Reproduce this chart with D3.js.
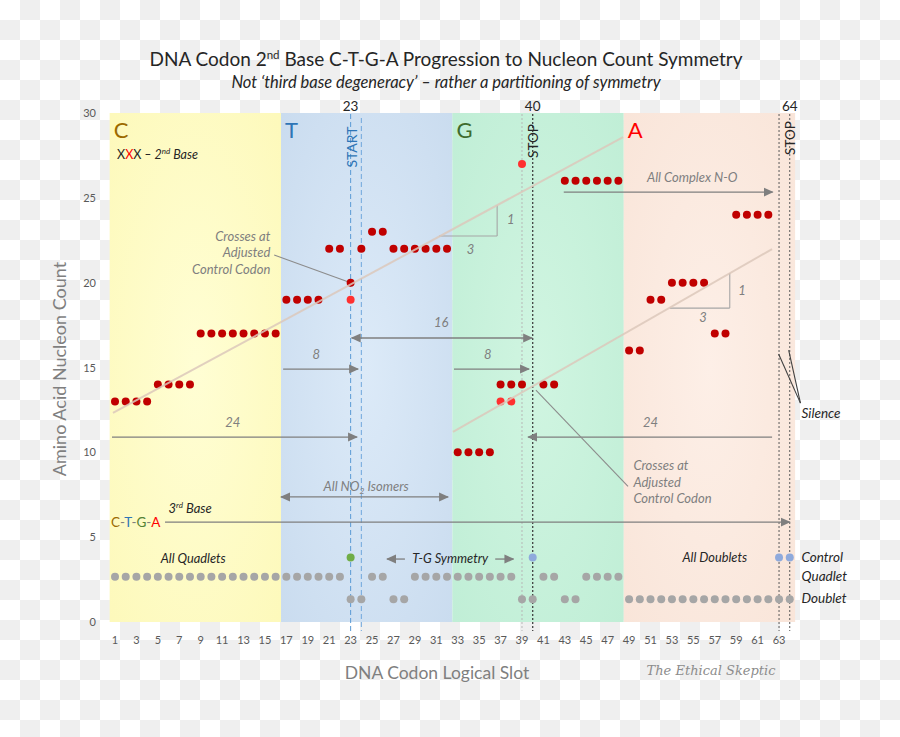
<!DOCTYPE html>
<html>
<head>
<meta charset="utf-8">
<script src="https://cdn.jsdelivr.net/npm/d3@7"></script>
<style>
  body { margin: 0; background: #fff; }
  svg text { font-family: Lato, "Liberation Sans", sans-serif; }
</style>
</head>
<body>
<svg id="chart" width="900" height="737"></svg>
<script>
// ---------------- data ----------------
var bases = ["C", "T", "G", "A"];
var baseFirstSlot = [1, 17, 33, 49];
var baseLastSlot = [16, 32, 48, 64];

// amino acid nucleon count at each codon slot 1..64 (null = stop, no amino acid)
var nucleons = [13, 13, 13, 13, 14, 14, 14, 14, 17, 17, 17, 17, 17, 17, 17, 17,
                19, 19, 19, 19, 22, 22, 20, 22, 23, 23, 22, 22, 22, 22, 22, 22,
                10, 10, 10, 10, 14, 14, 14, null, 14, 14, 26, 26, 26, 26, 26, 26,
                16, 16, 19, 19, 20, 20, 20, 20, 17, 17, 24, 24, 24, 24, null, null];

// adjusted values (bright red)
var adjustedSlots = [23, 37, 38, 39];
var adjustedValues = [19, 13, 13, 27];

// 3rd base class of each slot: Q = quadlet, D = doublet
var thirdBase = ["Q","Q","Q","Q","Q","Q","Q","Q","Q","Q","Q","Q","Q","Q","Q","Q",
                 "Q","Q","Q","Q","Q","Q","D","D","Q","Q","D","D","Q","Q","Q","Q",
                 "Q","Q","Q","Q","Q","Q","D","D","Q","Q","D","D","Q","Q","Q","Q",
                 "D","D","D","D","D","D","D","D","D","D","D","D","D","D","D","D"];

// control codons (start / stop)
var controlSlots = [23, 40, 63, 64];
var controlKind = ["start", "stop", "stop", "stop"];

// rows used for the 3rd base strip
var rowControl = 3.8, rowQuadlet = 2.67, rowDoublet = 1.34;

// two 1:3 progression lines [slot, count]
var trendLines = [
  [[0.81, 12.32], [48.44, 28.58]],
  [[32.56, 11.2], [62.35, 21.98]]
];

var yTicks = [0, 5, 10, 15, 20, 25, 30];
var xTicks = d3.range(1, 64, 2);
var markedSlots = [23, 40, 64];

// ---------------- chart ----------------
var svg = d3.select("#chart");
var defs = svg.append("defs");

// transparency checkerboard behind everything
var pat = defs.append("pattern").attr("id", "checker")
  .attr("width", 40).attr("height", 40).attr("patternUnits", "userSpaceOnUse");
pat.append("rect").attr("width", 40).attr("height", 40).attr("fill", "#ffffff");
pat.append("rect").attr("x", 20).attr("y", 0).attr("width", 20).attr("height", 20).attr("fill", "#efefef");
pat.append("rect").attr("x", 0).attr("y", 20).attr("width", 20).attr("height", 20).attr("fill", "#efefef");
svg.append("rect").attr("width", 900).attr("height", 737).attr("fill", "url(#checker)");

defs.append("marker").attr("id", "arr")
  .attr("viewBox", "0 0 10 10").attr("refX", 9).attr("refY", 5)
  .attr("markerWidth", 10).attr("markerHeight", 10)
  .attr("markerUnits", "userSpaceOnUse")
  .attr("orient", "auto-start-reverse")
  .append("path").attr("d", "M0,0.5 L10,5 L0,9.5 Z").attr("fill", "#7f7f7f");

var x = d3.scaleLinear().domain([0.5, 64.5]).range([109.65, 795.1]);
var y = d3.scaleLinear().domain([0, 30]).range([622, 113]);

// panels
var panelColor = { C: ["#fffed4", "#fdf9bb"], T: ["#dceaf8", "#cadcef"], G: ["#d0f5e1", "#c0eed6"], A: ["#fdefe7", "#f9e5d9"] };
var letterColor = { C: "#9c6a00", T: "#2e75b6", G: "#3f6b2d", A: "#ff0000" };

bases.forEach(function (b, i) {
  var g = defs.append("radialGradient").attr("id", "grad" + b)
    .attr("cx", "50%").attr("cy", "50%").attr("r", "70%");
  g.append("stop").attr("offset", "0%").attr("stop-color", panelColor[b][0]);
  g.append("stop").attr("offset", "100%").attr("stop-color", panelColor[b][1]);
});

svg.append("g").selectAll("rect").data(bases).join("rect")
  .attr("x", function (d, i) { return x(baseFirstSlot[i] - 0.5); })
  .attr("y", y(30))
  .attr("width", function (d, i) { return x(baseLastSlot[i] + 0.5) - x(baseFirstSlot[i] - 0.5); })
  .attr("height", y(0) - y(30))
  .attr("fill", function (d) { return "url(#grad" + d + ")"; });

svg.append("g").selectAll("text").data(bases).join("text")
  .attr("x", function (d, i) { return x(baseFirstSlot[i] - 0.5) + 4; })
  .attr("y", 138)
  .attr("font-size", 22)
  .attr("fill", function (d) { return letterColor[d]; })
  .text(function (d) { return d; });

// axes tick labels
svg.append("g").selectAll("text").data(yTicks).join("text")
  .attr("x", 96).attr("y", function (d) { return y(d) + 4; })
  .attr("text-anchor", "end").attr("font-size", 11).attr("fill", "#595959")
  .text(function (d) { return d; });

svg.append("g").selectAll("text").data(xTicks).join("text")
  .attr("x", function (d) { return x(d); }).attr("y", 644)
  .attr("text-anchor", "middle").attr("font-size", 11).attr("fill", "#595959")
  .text(function (d) { return d; });

svg.append("g").selectAll("text").data(markedSlots).join("text")
  .attr("x", function (d) { return x(d); }).attr("y", 111)
  .attr("text-anchor", "middle").attr("font-size", 13.5).attr("fill", "#262626")
  .text(function (d) { return d; });

// vertical control lines
function vline(slot, y0, color, dash, w) {
  svg.append("line")
    .attr("x1", x(slot)).attr("x2", x(slot)).attr("y1", y0).attr("y2", 631)
    .attr("stroke", color).attr("stroke-width", w || 1).attr("stroke-dasharray", dash);
}
vline(23, 114, "#5b9bd5", "5,3");
vline(24, 118, "#6fa6dd", "5,3");
vline(39, 114, "#b8b8b8", "2,2");
vline(40, 114, "#404040", "2,2", 1.3);
vline(63, 114, "#595959", "2,2");
vline(64, 114, "#595959", "2,2");

function vtext(px, py, txt, color, size) {
  svg.append("text")
    .attr("transform", "translate(" + px + "," + py + ") rotate(-90)")
    .attr("text-anchor", "middle").attr("dy", "0.35em")
    .attr("font-size", size).attr("fill", color).text(txt);
}
vtext(x(23) + 1, 147, "START", "#2e75b6", 14);
vtext(x(40) + 1, 141, "STOP", "#262626", 13.5);
vtext(x(64) + 1, 138, "STOP", "#262626", 13.5);

// arrows and annotation lines
function arrow(s0, v0, s1, v1, both) {
  var l = svg.append("line")
    .attr("x1", x(s0)).attr("y1", y(v0)).attr("x2", x(s1)).attr("y2", y(v1))
    .attr("stroke", "#7f7f7f").attr("stroke-width", 1.3)
    .attr("marker-end", "url(#arr)");
  if (both) l.attr("marker-start", "url(#arr)");
}
function plain(s0, v0, s1, v1, color) {
  svg.append("line")
    .attr("x1", x(s0)).attr("y1", y(v0)).attr("x2", x(s1)).attr("y2", y(v1))
    .attr("stroke", color || "#8c8c8c").attr("stroke-width", 1.1);
}
function label(s, v, txt, opt) {
  opt = opt || {};
  return svg.append("text")
    .attr("x", x(s)).attr("y", y(v))
    .attr("text-anchor", opt.anchor || "middle")
    .attr("font-size", opt.size || 13)
    .attr("font-style", opt.upright ? "normal" : "italic")
    .attr("fill", opt.color || "#7f7f7f")
    .text(txt);
}

arrow(42.9, 25.34, 62.4, 25.34);
label(54.9, 25.95, "All Complex N-O");

arrow(23.1, 16.74, 39.95, 16.74, true);
label(31.45, 17.4, "16");

arrow(16.7, 14.91, 23.7, 14.91);
label(19.8, 15.5, "8");
arrow(32.65, 14.91, 39.66, 14.91);
label(35.8, 15.5, "8");

arrow(0.72, 10.9, 23.6, 10.9);
label(12.0, 11.5, "24");
arrow(62.35, 10.9, 39.57, 10.9);
label(51.0, 11.5, "24");

arrow(16.5, 7.37, 32.1, 7.37, true);
var no2 = label(24.45, 7.73, "All NO", {});
no2.append("tspan").attr("font-size", 8.5).attr("dy", 3).text("2");
no2.append("tspan").attr("dy", -3).text(" Isomers");

arrow(5.67, 5.89, 64.0, 5.89);
var tb = label(6.0, 6.4, "3", { anchor: "start", color: "#262626", size: 13 });
tb.append("tspan").attr("font-size", 8).attr("dy", -5).text("rd");
tb.append("tspan").attr("dy", 5).text(" Base");

var ctga = svg.append("text").attr("x", 111).attr("y", y(5.87) + 4.5).attr("font-size", 13.5);
ctga.append("tspan").attr("fill", "#9c6a00").text("C");
ctga.append("tspan").attr("fill", "#7f7f7f").text("-");
ctga.append("tspan").attr("fill", "#2e75b6").text("T");
ctga.append("tspan").attr("fill", "#7f7f7f").text("-");
ctga.append("tspan").attr("fill", "#548235").text("G");
ctga.append("tspan").attr("fill", "#7f7f7f").text("-");
ctga.append("tspan").attr("fill", "#ff0000").text("A");

arrow(28.07, 3.71, 26.4, 3.71);
arrow(36.5, 3.71, 38.2, 3.71);
label(32.3, 3.5, "T-G Symmetry", { color: "#262626", size: 12.8 });
label(8.3, 3.5, "All Quadlets", { color: "#262626", size: 12.8 });
label(57.0, 3.55, "All Doublets", { color: "#262626", size: 12.8 });

// triangles showing 1:3 slope
plain(31.26, 22.75, 36.68, 22.75, "#a6a6a6");
plain(36.68, 22.75, 36.68, 24.56, "#a6a6a6");
label(37.6, 23.45, "1", { anchor: "start" });
label(34.2, 21.7, "3");
plain(52.8, 18.5, 58.4, 18.5, "#a6a6a6");
plain(58.4, 18.5, 58.4, 20.57, "#a6a6a6");
label(59.2, 19.3, "1", { anchor: "start" });
label(55.9, 17.7, "3");

// crossing call-outs
plain(15.86, 21.63, 23, 20);
label(15.5, 22.45, "Crosses at", { anchor: "end" });
label(15.5, 21.5, "Adjusted", { anchor: "end" });
label(15.5, 20.52, "Control Codon", { anchor: "end" });

plain(40.3, 13.67, 48.9, 8.0);
label(49.4, 8.95, "Crosses at", { anchor: "start" });
label(49.4, 7.95, "Adjusted", { anchor: "start" });
label(49.4, 7.0, "Control Codon", { anchor: "start" });

plain(62.96, 15.8, 65.0, 12.9, "#404040");
plain(63.9, 16.03, 65.0, 12.9, "#404040");
label(65.1, 12.0, "Silence", { anchor: "start", color: "#262626", size: 13.5 });

label(65.1, 3.55, "Control", { anchor: "start", color: "#262626", size: 13.5 });
label(65.1, 2.4, "Quadlet", { anchor: "start", color: "#262626", size: 13.5 });
label(65.1, 1.1, "Doublet", { anchor: "start", color: "#262626", size: 13.5 });

// XXX - 2nd base note
var xxx = svg.append("text").attr("x", 117).attr("y", 159).attr("font-size", 12.5).attr("fill", "#262626");
xxx.append("tspan").text("X");
xxx.append("tspan").attr("fill", "#ff0000").text("X");
xxx.append("tspan").text("X");
xxx.append("tspan").attr("font-style", "italic").text(" \u2013 2");
xxx.append("tspan").attr("font-style", "italic").attr("font-size", 8).attr("dy", -5).text("nd");
xxx.append("tspan").attr("font-style", "italic").attr("dy", 5).text(" Base");

// 3rd base strip dots
var slots = d3.range(1, 65);
svg.append("g").selectAll("circle").data(slots).join("circle")
  .attr("cx", function (d) { return x(d); })
  .attr("cy", function (d) { return y(thirdBase[d - 1] === "Q" ? rowQuadlet : rowDoublet); })
  .attr("r", 4).attr("fill", "#a6a6a6");

svg.append("g").selectAll("circle").data(controlSlots).join("circle")
  .attr("cx", function (d) { return x(d); })
  .attr("cy", y(rowControl))
  .attr("r", 4)
  .attr("fill", function (d, i) { return controlKind[i] === "start" ? "#70ad47" : "#8faadc"; });

// nucleon count dots
var counted = slots.filter(function (d) { return nucleons[d - 1] !== null; });
svg.append("g").selectAll("circle").data(counted).join("circle")
  .attr("cx", function (d) { return x(d); })
  .attr("cy", function (d) { return y(nucleons[d - 1]); })
  .attr("r", 4).attr("fill", "#c00000");

svg.append("g").selectAll("circle").data(adjustedSlots).join("circle")
  .attr("cx", function (d) { return x(d); })
  .attr("cy", function (d, i) { return y(adjustedValues[i]); })
  .attr("r", 4).attr("fill", "#ff3030");

// 1:3 progression lines
var line = d3.line().x(function (d) { return x(d[0]); }).y(function (d) { return y(d[1]); });
svg.append("g").selectAll("path").data(trendLines).join("path")
  .attr("d", line)
  .attr("fill", "none")
  .attr("stroke", "#dcc8bb")
  .attr("stroke-opacity", 0.85)
  .attr("stroke-width", 2);

// titles
svg.append("text").attr("x", 446).attr("y", 66).attr("text-anchor", "middle")
  .attr("font-size", 19).attr("fill", "#262626")
  .call(function (t) {
    t.append("tspan").text("DNA Codon 2");
    t.append("tspan").attr("font-size", 11.5).attr("dy", -7).text("nd");
    t.append("tspan").attr("dy", 7).text(" Base C-T-G-A Progression to Nucleon Count Symmetry");
  });
svg.append("text").attr("x", 446).attr("y", 88).attr("text-anchor", "middle")
  .attr("font-size", 16.5).attr("font-style", "italic").attr("fill", "#262626")
  .text("Not \u2018third base degeneracy\u2019 \u2013 rather a partitioning of symmetry");

svg.append("text")
  .attr("transform", "translate(66,369) rotate(-90)")
  .attr("text-anchor", "middle").attr("font-size", 18).attr("fill", "#7f7f7f")
  .text("Amino Acid Nucleon Count");

svg.append("text").attr("x", 437).attr("y", 679).attr("text-anchor", "middle")
  .attr("font-size", 17.5).attr("fill", "#7f7f7f")
  .text("DNA Codon Logical Slot");

svg.append("text").attr("x", 711).attr("y", 675).attr("text-anchor", "middle")
  .attr("font-size", 13).attr("font-style", "italic").attr("fill", "#8c8c8c")
  .style("font-family", "'DejaVu Serif', serif")
  .text("The Ethical Skeptic");
</script>
</body>
</html>
